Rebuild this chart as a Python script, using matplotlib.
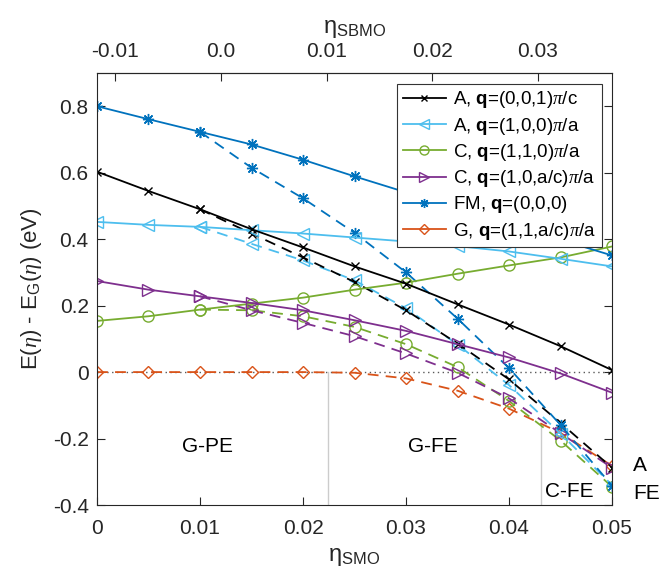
import numpy as np
import matplotlib
matplotlib.use("Agg")
import matplotlib.pyplot as plt
from matplotlib.lines import Line2D

plt.rcParams['font.family'] = ['Liberation Sans', 'DejaVu Sans']
plt.rcParams['mathtext.fontset'] = 'custom'
plt.rcParams['mathtext.rm'] = 'Liberation Sans'
plt.rcParams['mathtext.bf'] = 'Liberation Sans:bold'
plt.rcParams['mathtext.it'] = 'Liberation Serif:italic'

# strain of SMO (bottom axis)
eta = [0, 0.005, 0.01, 0.015, 0.02, 0.025, 0.03, 0.035, 0.04, 0.045, 0.05]
eta_fe = eta[2:]  # polar branches start at 0.01

# solid: non-polar, dashed: polar (FE)
A001 = [0.603, 0.545, 0.490, 0.430, 0.375, 0.318, 0.266, 0.204, 0.143, 0.078, 0.006]
A001_fe = [0.490, 0.417, 0.345, 0.271, 0.186, 0.086, -0.022, -0.153, -0.288]
A100 = [0.452, 0.443, 0.437, 0.427, 0.417, 0.405, 0.393, 0.379, 0.363, 0.341, 0.318]
A100_fe = [0.437, 0.386, 0.336, 0.276, 0.192, 0.083, -0.039, -0.185, -0.340]
C110 = [0.154, 0.168, 0.188, 0.206, 0.224, 0.248, 0.269, 0.296, 0.321, 0.345, 0.378]
C110_fe = [0.188, 0.186, 0.168, 0.136, 0.084, 0.015, -0.087, -0.206, -0.345]
C10c = [0.274, 0.248, 0.228, 0.208, 0.186, 0.156, 0.124, 0.084, 0.044, -0.004, -0.062]
C10c_fe = [0.228, 0.186, 0.148, 0.108, 0.056, -0.002, -0.079, -0.184, -0.288]
FM = [0.800, 0.761, 0.723, 0.685, 0.639, 0.589, 0.541, 0.493, 0.445, 0.398, 0.351]
FM_fe = [0.723, 0.615, 0.523, 0.419, 0.300, 0.161, 0.012, -0.159, -0.342]
G_fe = [0, 0, 0, 0, 0, -0.002, -0.019, -0.056, -0.110, -0.183, -0.282]

labels = [r'A, $\mathbf{q}$=(0,0,1)$\pi$/c',
          r'A, $\mathbf{q}$=(1,0,0)$\pi$/a',
          r'C, $\mathbf{q}$=(1,1,0)$\pi$/a',
          r'C, $\mathbf{q}$=(1,0,a/c)$\pi$/a',
          r'FM, $\mathbf{q}$=(0,0,0)',
          r'G, $\mathbf{q}$=(1,1,a/c)$\pi$/a']

# phase boundaries
x_b1 = 0.0224
x_b2 = 0.0431
y_b2 = -0.159

# eta_SBMO = k * (eta_SMO - x0)
x0 = 0.01204
k = 0.976
sbmo_ticks = [-0.01, 0.0, 0.01, 0.02, 0.03]
sbmo_labels = ['-0.01', '0.0', '0.01', '0.02', '0.03']

black = 'k'
lblue = '#4DBEEE'
green = '#77AC30'
purple = '#7E2F8E'
blue = '#0072BD'
orange = '#D95319'
ast = (8, 2, 0)

fig = plt.figure(figsize=(6.63, 5.8), dpi=100)
ax = fig.add_axes([0.1463, 0.1293, 0.7768, 0.7448])

lw = 1.3
ms = 8
dash = (0, (6, 4))
ax.plot([0, 0.05], [0, 0], ls=(0, (1, 2.5)), color='0.35', lw=1.0, zorder=1)
ax.plot([x_b1, x_b1], [0, -0.4], color='0.8', lw=1.0, zorder=1)
ax.plot([x_b2, x_b2], [y_b2, -0.4], color='0.8', lw=1.0, zorder=1)

ax.plot(eta, G_fe, ls=dash, color=orange, lw=lw, marker='D', ms=6.5, mfc='none', mec=orange)

ax.plot(eta_fe, C110_fe, ls=dash, color=green, lw=lw, marker='o', ms=ms, mfc='none')
ax.plot(eta_fe, C10c_fe, ls=dash, color=purple, lw=lw, marker='>', ms=ms, mfc='none')
ax.plot(eta_fe, A100_fe, ls=dash, color=lblue, lw=lw, marker='<', ms=ms, mfc='none')
ax.plot(eta_fe, A001_fe, ls=dash, color=black, lw=lw, marker='x', ms=6)
ax.plot(eta_fe, FM_fe, ls=dash, color=blue, lw=lw, marker=ast, ms=ms)

ax.plot(eta, C110, color=green, lw=lw, marker='o', ms=ms, mfc='none')
ax.plot(eta, C10c, color=purple, lw=lw, marker='>', ms=ms, mfc='none')
ax.plot(eta, A100, color=lblue, lw=lw, marker='<', ms=ms, mfc='none')
ax.plot(eta, A001, color=black, lw=lw, marker='x', ms=6)
ax.plot(eta, FM, color=blue, lw=lw, marker=ast, ms=ms)

ax.set_xlim(0, 0.05)
ax.set_ylim(-0.4, 0.9)
ax.set_xticks([0, 0.01, 0.02, 0.03, 0.04, 0.05])
ax.set_xticklabels(['0', '0.01', '0.02', '0.03', '0.04', '0.05'])
ax.set_yticks([-0.4, -0.2, 0, 0.2, 0.4, 0.6, 0.8])
ax.set_yticklabels(['-0.4', '-0.2', '0', '0.2', '0.4', '0.6', '0.8'])
ax.tick_params(direction='in', length=6, width=0.8, labelsize=15, colors='0.15',
               right=True, top=False)
ax.tick_params(axis='x', pad=10)
ax.tick_params(axis='y', pad=6)
for s in ax.spines.values():
    s.set_color('0.15')
    s.set_linewidth(0.8)

ax.set_xlabel(r'η$_{\mathrm{SMO}}$', fontsize=17, color='0.15', labelpad=6)
ax.set_ylabel(r'E($\eta$) - E$_{\mathrm{G}}$($\eta$) (eV)', fontsize=16, color='0.15', labelpad=6)

sec = ax.secondary_xaxis('top', functions=(lambda x: k * (x - x0), lambda s: s / k + x0))
sec.set_xticks(sbmo_ticks)
sec.set_xticklabels(sbmo_labels)
sec.tick_params(direction='in', length=6, width=0.8, labelsize=15, colors='0.15', pad=9)
sec.spines['top'].set_color('0.15')
sec.set_xlabel(r'η$_{\mathrm{SBMO}}$', fontsize=17, color='0.15', labelpad=6)

ax.text(0.0107, -0.225, 'G-PE', fontsize=15, ha='center', va='center')
ax.text(0.0326, -0.225, 'G-FE', fontsize=15, ha='center', va='center')
ax.text(0.0459, -0.36, 'C-FE', fontsize=15, ha='center', va='center')
ax.text(0.05205, -0.28, 'A', fontsize=15, ha='left', va='center', clip_on=False)
ax.text(0.05205, -0.365, 'FE', fontsize=15, ha='left', va='center', clip_on=False)

handles = [
    Line2D([], [], color=black, lw=lw, marker='x', ms=5),
    Line2D([], [], color=lblue, lw=lw, marker='<', ms=6.5, mfc='none'),
    Line2D([], [], color=green, lw=lw, marker='o', ms=6.5, mfc='none'),
    Line2D([], [], color=purple, lw=lw, marker='>', ms=6.5, mfc='none'),
    Line2D([], [], color=blue, lw=lw, marker=ast, ms=6.5),
    Line2D([], [], color=orange, lw=lw, marker='D', ms=5.5, mfc='none'),
]
leg = ax.legend(handles, labels, loc='upper right', bbox_to_anchor=(0.981, 0.975),
                borderaxespad=0, fontsize=13.5, fancybox=False, framealpha=1,
                edgecolor='0.2', handlelength=2.3, handletextpad=0.4,
                labelspacing=0.28, borderpad=0.3)
leg.get_frame().set_linewidth(0.8)

fig.savefig('out.png', dpi=100)
